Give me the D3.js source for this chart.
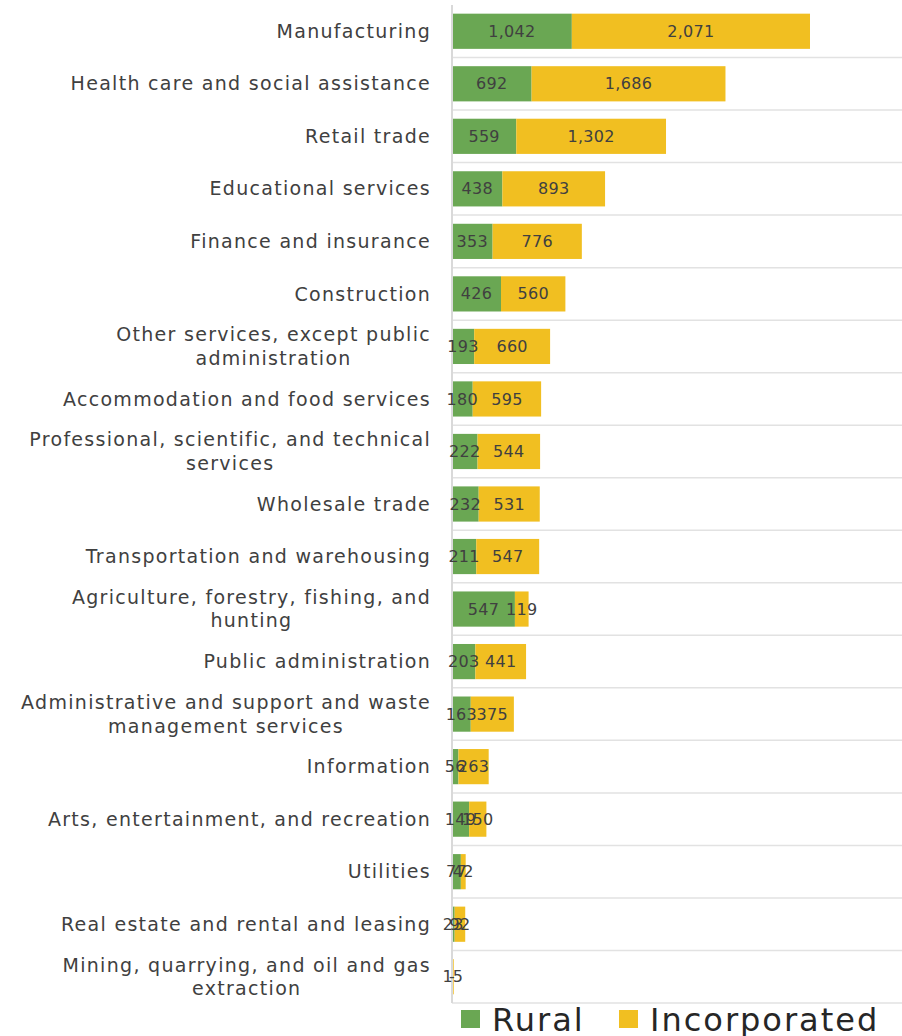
<!DOCTYPE html>
<html>
<head>
<meta charset="utf-8">
<script src="https://cdn.jsdelivr.net/npm/d3@7"></script>
<style>
  body { margin: 0; background: #fff; }
  text { font-family: "DejaVu Sans", sans-serif; }
</style>
</head>
<body>
<svg class="chart"></svg>
<script>
// industries, top to bottom; "\n" marks where the label wraps
var industries = [
  "Manufacturing",
  "Health care and social assistance",
  "Retail trade",
  "Educational services",
  "Finance and insurance",
  "Construction",
  "Other services, except public\nadministration",
  "Accommodation and food services",
  "Professional, scientific, and technical\nservices",
  "Wholesale trade",
  "Transportation and warehousing",
  "Agriculture, forestry, fishing, and\nhunting",
  "Public administration",
  "Administrative and support and waste\nmanagement services",
  "Information",
  "Arts, entertainment, and recreation",
  "Utilities",
  "Real estate and rental and leasing",
  "Mining, quarrying, and oil and gas\nextraction"
];
var rural = [1042, 692, 559, 438, 353, 426, 193, 180, 222, 232, 211, 547, 203, 163, 56, 149, 77, 23, 0];
var incorporated = [2071, 1686, 1302, 893, 776, 560, 660, 595, 544, 531, 547, 119, 441, 375, 263, 150, 42, 92, 15];
var seriesNames = ["Rural", "Incorporated"];
var seriesColours = ["#6aa753", "#f1bf21"];

var width = 902, height = 1036;
var plotLeft = 452, plotRight = 902, plotTop = 5, plotBottom = 1003;

var chart = d3.select(".chart").attr("width", width).attr("height", height);

var xScale = d3.scaleLinear().domain([0, 3913]).range([plotLeft, plotRight]);
var yScale = d3.scaleBand().domain(industries)
    .range([plotTop, plotBottom]).paddingInner(0.33).paddingOuter(0.165);
var step = yScale.step();

var fmt = function(v) { return v === 0 ? "-" : d3.format(",")(v); };

// row separators
var bounds = d3.range(industries.length + 1).map(function(i) { return plotTop + i * step; });
chart.selectAll(".grid")
    .data(bounds.slice(1))
  .enter().append("line")
    .attr("class", "grid")
    .attr("x1", plotLeft).attr("x2", plotRight)
    .attr("y1", function(d) { return d; }).attr("y2", function(d) { return d; })
    .style("stroke", "#e2e2e2").style("stroke-width", 1.5);

// stacked data
var rows = industries.map(function(name, i) {
  return {name: name, vals: [rural[i], incorporated[i]]};
});
var segs = [];
rows.forEach(function(r) {
  var x0 = 0;
  r.vals.forEach(function(v, k) {
    segs.push({name: r.name, k: k, x0: x0, x1: x0 + v, v: v});
    x0 += v;
  });
});

chart.selectAll(".bar")
    .data(segs)
  .enter().append("rect")
    .attr("class", "bar")
    .attr("x", function(d) { return xScale(d.x0); })
    .attr("y", function(d) { return yScale(d.name); })
    .attr("width", function(d) { return xScale(d.x1) - xScale(d.x0); })
    .attr("height", yScale.bandwidth())
    .style("fill", function(d) { return seriesColours[d.k]; });

// vertical axis line
chart.append("line")
    .attr("x1", plotLeft).attr("x2", plotLeft)
    .attr("y1", plotTop).attr("y2", plotBottom)
    .style("stroke", "#d9d9d9").style("stroke-width", 2);

chart.selectAll(".value")
    .data(segs)
  .enter().append("text")
    .attr("class", "value")
    .attr("x", function(d) { return (xScale(d.x0) + xScale(d.x1)) / 2; })
    .attr("y", function(d) { return yScale(d.name) + yScale.bandwidth() / 2; })
    .attr("dy", ".35em")
    .style("text-anchor", "middle")
    .style("font-size", "16px")
    .style("letter-spacing", "0.3px")
    .style("fill", "#404040")
    .text(function(d) { return fmt(d.v); });

// category labels: right aligned block, lines centred within it
var labelRight = 431, lineGap = 23.5;
var labels = chart.selectAll(".cat")
    .data(industries)
  .enter().append("g")
    .attr("class", "cat");

labels.each(function(d) {
  var g = d3.select(this);
  var lines = d.split("\n");
  var cy = yScale(d) + yScale.bandwidth() / 2;
  var texts = lines.map(function(l, i) {
    return g.append("text")
      .attr("y", cy + (i - (lines.length - 1) / 2) * lineGap)
      .attr("dy", ".35em")
      .style("font-size", "19px")
      .style("letter-spacing", "1.3px")
      .style("fill", "#404040")
      .style("text-anchor", "middle")
      .text(l);
  });
  var w = d3.max(texts, function(t) { return t.node().getComputedTextLength(); });
  texts.forEach(function(t) { t.attr("x", labelRight - w / 2); });
});

// legend
var legend = chart.selectAll(".legend")
    .data(seriesNames)
  .enter().append("g")
    .attr("class", "legend")
    .attr("transform", function(d, i) { return "translate(" + [461, 619][i] + ",1010)"; });

legend.append("rect")
    .attr("width", 19).attr("height", 18)
    .style("fill", function(d, i) { return seriesColours[i]; });

legend.append("text")
    .attr("x", 31).attr("y", 9)
    .attr("dy", ".37em")
    .style("font-size", "32px")
    .style("letter-spacing", "2px")
    .style("fill", "#262626")
    .text(function(d) { return d; });
</script>
</body>
</html>
